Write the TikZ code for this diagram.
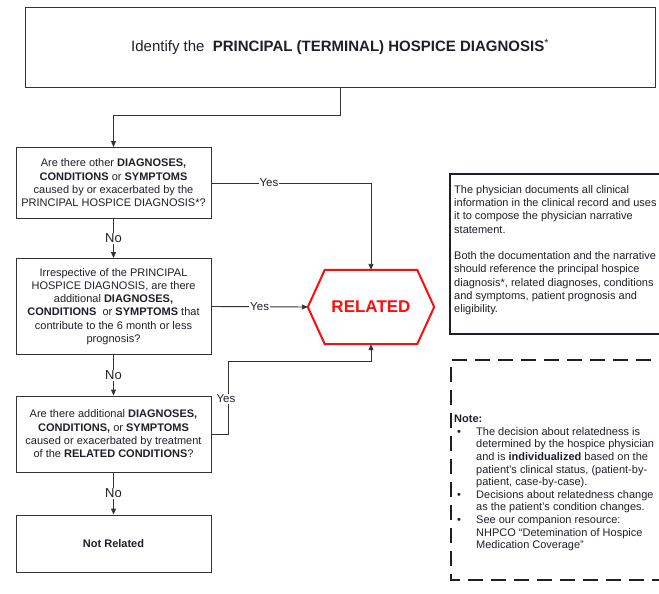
\documentclass[tikz,border=0pt]{standalone}
\usepackage{fontspec}
\setmainfont{Liberation Sans}
\usetikzlibrary{arrows.meta}
\definecolor{ink}{rgb}{0.12,0.12,0.16}
\definecolor{edge}{rgb}{0.2,0.2,0.2}
\definecolor{relred}{rgb}{1,0.05,0.05}
\begin{document}
\begin{tikzpicture}[x=1pt,y=-1pt,
  every node/.style={text=ink},
  qbox/.style={draw=edge,line width=0.9pt,minimum width=195pt,align=center,inner sep=2pt,
    font=\fontsize{11}{13.3}\selectfont},
  arr/.style={draw=edge,line width=0.9pt,-{Triangle[length=6pt,width=5pt]}},
  lab/.style={fill=white,inner sep=1pt,font=\fontsize{11.5}{13}\selectfont},
  nolab/.style={fill=white,inner sep=1pt,font=\fontsize{13}{15}\selectfont},
  small/.style={font=\fontsize{11}{13.3}\selectfont,align=left,inner sep=0pt}
]
\useasboundingbox (0,0) rectangle (659,594);

% top box
\node[draw=edge,line width=0.9pt,minimum width=630pt,minimum height=80pt,
  font=\fontsize{15}{18}\selectfont] (top) at (340,47)
  {Identify the\ \ \textbf{PRINCIPAL (TERMINAL) HOSPICE DIAGNOSIS}\textsuperscript{*}};

% question boxes
\node[qbox,minimum height=71pt] (q1) at (113.5,183)
  {Are there other \textbf{DIAGNOSES,}\\\textbf{CONDITIONS} or \textbf{SYMPTOMS}\\caused by or exacerbated by the\\PRINCIPAL HOSPICE DIAGNOSIS*?};
\node[qbox,minimum height=96pt] (q2) at (113.5,306.5)
  {Irrespective of the PRINCIPAL\\HOSPICE DIAGNOSIS, are there\\additional \textbf{DIAGNOSES,}\\\textbf{CONDITIONS}\ \ or \textbf{SYMPTOMS} that\\contribute to the 6 month or less\\prognosis?};
\node[qbox,minimum height=76pt] (q3) at (113.5,434)
  {Are there additional \textbf{DIAGNOSES,}\\\textbf{CONDITIONS,} or \textbf{SYMPTOMS}\\caused or exacerbated by treatment\\of the \textbf{RELATED CONDITIONS}?};
\node[qbox,minimum height=57pt] (nr) at (113.5,543.5) {\textbf{Not Related}};

% RELATED hexagon
\node[minimum width=126pt,minimum height=74pt,inner sep=0pt,text=relred,
  font=\fontsize{17}{20}\selectfont\bfseries] (rel) at (371,307) {RELATED};
\draw[relred,line width=2pt,line join=miter]
  (rel.west) -- ([xshift=17pt]rel.north west) -- ([xshift=-17pt]rel.north east)
  -- (rel.east) -- ([xshift=-17pt]rel.south east) -- ([xshift=17pt]rel.south west) -- cycle;

% connectors
\draw[arr] (top.south) -- ++(0,28) -| (q1.north);
\draw[arr] (q1.south) -- node[nolab]{No} (q2.north);
\draw[arr] (q2.south) -- node[nolab]{No} (q3.north);
\draw[arr] (q3.south) -- node[nolab]{No} (nr.north);
\draw[arr] (q1.east) -| node[lab,pos=0.18]{Yes} (rel.north);
\draw[arr] (q2.east) -- node[lab]{Yes} (rel.west);
\coordinate (c3) at (228,361);
\draw[arr] (q3.east) -| (c3) -| (rel.south);
\node[lab] (y3) at (226,399) {Yes};

% info box
\draw[draw=ink,line width=2pt] (450,174) rectangle (720,334);
\node[small,anchor=north west] (info) at (454,185)
  {The physician documents all clinical\\
   information in the clinical record and uses\\
   it to compose the physician narrative\\
   statement.\\[13.3pt]
   Both the documentation and the narrative\\
   should reference the principal hospice\\
   diagnosis*, related diagnoses, conditions\\
   and symptoms, patient prognosis and\\
   eligibility.};

% note box
\draw[draw=ink,line width=1.6pt,dash pattern=on 15pt off 8pt] (720,360) -- (451,360) -- (451,580) -- (720,580);
\node[font=\fontsize{11}{12.6}\selectfont,align=left,inner sep=0pt,anchor=north west] (note) at (454,415)
  {\textbf{Note:}\\
   \hspace*{3pt}\makebox[19pt][l]{\textbullet}The decision about relatedness is\\
   \hspace*{22pt}determined by the hospice physician\\
   \hspace*{22pt}and is \textbf{individualized} based on the\\
   \hspace*{22pt}patient's clinical status, (patient-by-\\
   \hspace*{22pt}patient, case-by-case).\\
   \hspace*{3pt}\makebox[19pt][l]{\textbullet}Decisions about relatedness change\\
   \hspace*{22pt}as the patient's condition changes.\\
   \hspace*{3pt}\makebox[19pt][l]{\textbullet}See our companion resource:\\
   \hspace*{22pt}NHPCO “Detemination of Hospice\\
   \hspace*{22pt}Medication Coverage”};
\end{tikzpicture}
\end{document}
